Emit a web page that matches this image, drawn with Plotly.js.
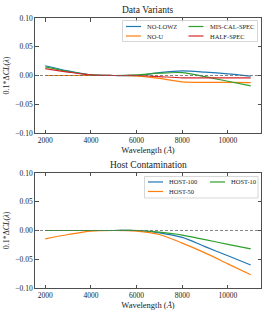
<!DOCTYPE html>
<html><head><meta charset="utf-8">
<script src="https://cdn.plot.ly/plotly-3.0.1.min.js"></script>
<style>html,body{margin:0;padding:0;background:#fff}#c{width:269px;height:319px}</style>
</head><body><div id="c"></div>
<script>
// Wavelength grid (Å)
const wave = [2000, 3000, 4000, 5000, 6000, 7000, 8000, 9000, 10000, 11000];
// Data Variants
const noLowz     = [0.017, 0.008, 0.001, 0.000, 0.000, 0.005, 0.008, 0.006, 0.003, -0.001];
const noU        = [0.000, 0.000, 0.000, 0.000, -0.001, -0.005, -0.011, -0.012, -0.012, -0.0125];
const misCalSpec = [0.015, 0.007, 0.001, 0.000, 0.001, 0.004, 0.005, -0.002, -0.010, -0.018];
const halfSpec   = [0.012, 0.006, 0.001, 0.000, 0.000, -0.002, -0.004, -0.004, -0.004, -0.004];
// Host Contamination
const host100 = [0.000, 0.000, 0.000, 0.000, 0.000, -0.004, -0.012, -0.028, -0.044, -0.060];
const host50  = [-0.0145, -0.007, -0.001, 0.000, -0.001, -0.007, -0.022, -0.039, -0.058, -0.077];
const host10  = [0.000, 0.000, 0.000, 0.000, 0.000, -0.003, -0.008, -0.016, -0.024, -0.032];

const topNames = ['NO-LOWZ', 'NO-U', 'MIS-CAL-SPEC', 'HALF-SPEC'];
const botNames = ['HOST-100', 'HOST-50', 'HOST-10'];
const xTicks = [2000, 4000, 6000, 8000, 10000];
const yTicks = [-0.10, -0.05, 0.00, 0.05, 0.10];

const C = {blue:'#1f77b4', orange:'#ff7f0e', green:'#2ca02c', red:'#d62728'};
const FONT = 'Liberation Serif';
const AX = '#222';

function tr(y, name, color, xa, ya){
  return {x: wave, y: y, name: name, type:'scatter', mode:'lines',
    line:{color:color, width:1.2, shape:'spline', smoothing:0.8},
    xaxis:xa, yaxis:ya, showlegend:false, hoverinfo:'skip'};
}
const data = [
  tr(noLowz, topNames[0], C.blue, 'x2', 'y2'),
  tr(noU, topNames[1], C.orange, 'x2', 'y2'),
  tr(misCalSpec, topNames[2], C.green, 'x2', 'y2'),
  tr(halfSpec, topNames[3], C.red, 'x2', 'y2'),
  tr(host100, botNames[0], C.blue, 'x', 'y'),
  tr(host50, botNames[1], C.orange, 'x', 'y'),
  tr(host10, botNames[2], C.green, 'x', 'y')
];

function xax(anchor){
  return {anchor:anchor, range:[1550, 11450], tickvals:xTicks, ticktext:xTicks.map(String),
    ticks:'inside', ticklen:3.5, tickwidth:0.8, tickcolor:AX, mirror:'ticks',
    showline:true, linecolor:AX, linewidth:0.8, showgrid:false, zeroline:false,
    tickfont:{family:FONT, size:7.5, color:AX},
    title:{text:'Wavelength (<i>Å</i>)', font:{family:FONT, size:8.5, color:AX}, standoff:3}};
}
function yax(anchor, dom){
  return {anchor:anchor, domain:dom, range:[-0.1, 0.1], tickvals:yTicks, tickformat:'.2f',
    ticks:'inside', ticklen:3.5, tickwidth:0.8, tickcolor:AX, mirror:'ticks',
    showline:true, linecolor:AX, linewidth:0.8, showgrid:false, zeroline:false,
    tickfont:{family:FONT, size:7.5, color:AX},
    title:{text:'0.1*Δ<i>CL</i>(<i>λ</i>)', font:{family:FONT, size:8, color:AX}, standoff:4}};
}

// Manual legends (positions in axis-domain fractions; plot area 226px wide, 115px tall)
const shapes = [
  {type:'line', xref:'x2 domain', yref:'y2', x0:0, x1:1, y0:0, y1:0, line:{color:'#666', width:0.8, dash:'3px,2px'}},
  {type:'line', xref:'x domain', yref:'y', x0:0, x1:1, y0:0, y1:0, line:{color:'#666', width:0.8, dash:'3px,2px'}}
];
const annotations = [
  {text:'Data Variants', xref:'x2 domain', yref:'y2 domain', x:0.5, y:1, yshift:1, yanchor:'bottom', showarrow:false, font:{family:FONT, size:9.5, color:AX}},
  {text:'Host Contamination', xref:'x domain', yref:'y domain', x:0.5, y:1, yshift:1, yanchor:'bottom', showarrow:false, font:{family:FONT, size:9.5, color:AX}}
];
const W = 226, H = 115, L = 35;
function legend(xr, yr, top, box, items){
  // box: [left, right, top, bottom] in px; items: [name, color, lineX0, rowY]
  const fx = p => (p - L) / W, fy = p => (top + H - p) / H;
  shapes.push({type:'rect', xref:xr, yref:yr, x0:fx(box[0]), x1:fx(box[1]), y0:fy(box[2]), y1:fy(box[3]),
    fillcolor:'rgba(255,255,255,0.8)', line:{color:'#cccccc', width:0.8}});
  items.forEach(it => {
    shapes.push({type:'line', xref:xr, yref:yr, x0:fx(it[2]), x1:fx(it[2] + 15), y0:fy(it[3]), y1:fy(it[3]),
      line:{color:it[1], width:1.2}});
    annotations.push({text:it[0], xref:xr, yref:yr, x:fx(it[2] + 19), y:fy(it[3]), xanchor:'left', yanchor:'middle',
      showarrow:false, font:{family:FONT, size:6.5, color:AX}});
  });
}
legend('x2 domain', 'y2 domain', 18, [122.5, 257.5, 20.5, 41.5], [
  [topNames[0], C.blue, 126, 26.5], [topNames[1], C.orange, 126, 36],
  [topNames[2], C.green, 188.5, 26.5], [topNames[3], C.red, 188.5, 36]]);
legend('x domain', 'y domain', 173, [144.5, 258, 176.5, 198], [
  [botNames[0], C.blue, 148, 182], [botNames[1], C.orange, 148, 191.5],
  [botNames[2], C.green, 210, 182]]);

const layout = {
  width:269, height:319, margin:{l:35, r:8, t:18, b:31},
  paper_bgcolor:'#fff', plot_bgcolor:'#fff', showlegend:false,
  xaxis: xax('y'), yaxis: yax('x', [0, 0.426]),
  xaxis2: xax('y2'), yaxis2: yax('x2', [0.574, 1]),
  shapes: shapes, annotations: annotations
};
Plotly.newPlot('c', data, layout, {staticPlot:true, displayModeBar:false});
</script></body></html>
